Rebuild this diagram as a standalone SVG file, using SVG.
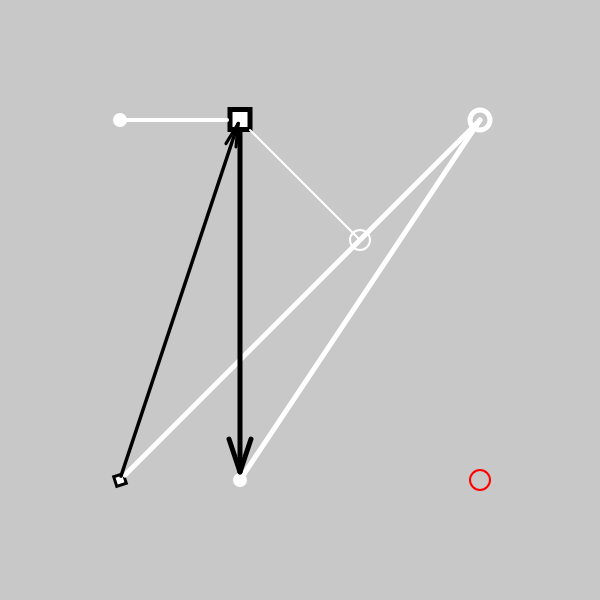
<svg xmlns="http://www.w3.org/2000/svg" width="600" height="600" viewBox="0 0 600 600">
<style>
.w{stroke:#fff;fill:none;stroke-linecap:round}
.b{stroke:#000;fill:none;stroke-linecap:round;stroke-linejoin:round}
</style>
<defs>
<marker id="ah1" markerUnits="userSpaceOnUse" orient="auto" markerWidth="40" markerHeight="40" refX="0" refY="0" viewBox="-36 -15 40 30" overflow="visible">
<path d="M-33,-11 L0,0 L-33,11" fill="none" stroke="#000" stroke-width="5" stroke-linecap="round" stroke-linejoin="round"/>
</marker>
<marker id="ah2" markerUnits="userSpaceOnUse" orient="auto" markerWidth="30" markerHeight="30" refX="0" refY="0" viewBox="-30 -10 34 20" overflow="visible">
<path d="M-26,-6 L0,0 L-26,6" fill="none" stroke="#000" stroke-width="3.5" stroke-linecap="round" stroke-linejoin="round"/>
</marker>
</defs>
<rect width="600" height="600" fill="#c8c8c8"/>
<g id="nodes">
<g id="n1"><circle cx="120" cy="120" r="7" fill="#fff"/></g>
<g id="n2"><rect x="230" y="109.5" width="20" height="20" fill="#fff" stroke="#000" stroke-width="5"/></g>
<g id="n3"><circle cx="480" cy="120" r="10" fill="none" stroke="#fff" stroke-width="5"/></g>
<g id="n4"><circle cx="360" cy="240" r="10" fill="none" stroke="#fff" stroke-width="2"/></g>
<g id="n5"><rect x="115" y="475" width="10" height="10" fill="#fff" stroke="#000" stroke-width="3" transform="rotate(-18 120 480)"/></g>
<g id="n6"><circle cx="240" cy="480" r="7" fill="#fff"/></g>
<g id="n7"><circle cx="480" cy="480" r="10" fill="none" stroke="#f00" stroke-width="2"/></g>
</g>
<g id="edges">
<line class="w" x1="120" y1="120" x2="227" y2="120" stroke-width="4"/>
<line class="w" x1="250" y1="130" x2="360" y2="240" stroke-width="2"/>
<line class="w" x1="125" y1="475" x2="480" y2="120" stroke-width="5"/>
<line class="w" x1="480" y1="120" x2="242" y2="477" stroke-width="5"/>
<line class="b" x1="121" y1="476" x2="238.2" y2="123.5" stroke-width="3.5" marker-end="url(#ah2)"/>
<line class="b" x1="240" y1="131" x2="240" y2="472" stroke-width="5" marker-end="url(#ah1)"/>
</g>
</svg>
